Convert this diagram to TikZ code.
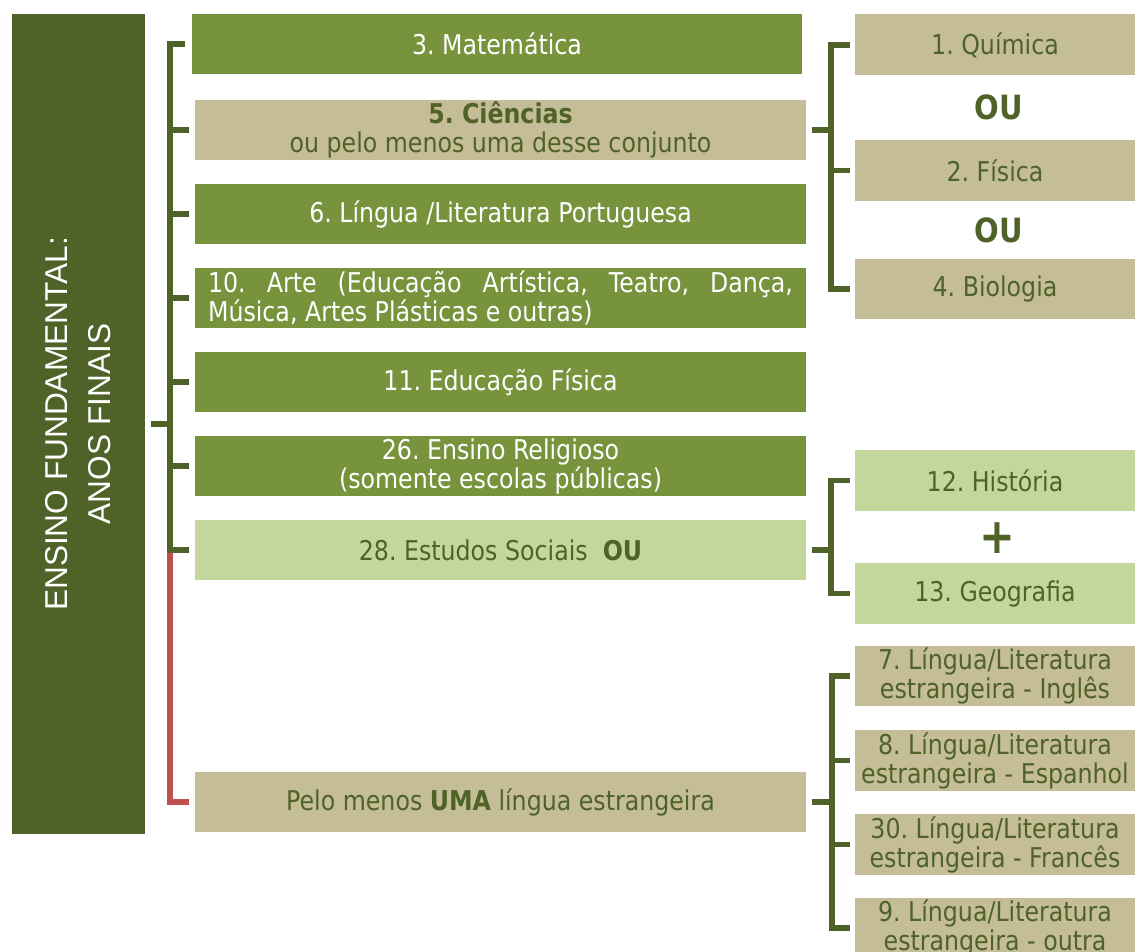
\documentclass[tikz,border=0pt]{standalone}
\usepackage{fontspec}
\setmainfont{DejaVu Sans}[FakeStretch=0.87]
\newfontfamily\titlefont{Liberation Sans}
\definecolor{darkolive}{HTML}{4F6228}
\definecolor{midolive}{HTML}{77933C}
\definecolor{sand}{HTML}{C4BD97}
\definecolor{paleolive}{HTML}{C3D69B}
\definecolor{redline}{HTML}{C0504D}
\frenchspacing
\tikzset{
  subj/.style={rectangle,inner sep=0pt,minimum width=12.22cm,minimum height=1.2cm,
    align=center,font=\fontsize{15.5}{16.5}\selectfont},
  opt/.style={rectangle,inner sep=0pt,minimum width=5.6cm,minimum height=1.22cm,
    align=center,font=\fontsize{15.5}{16.5}\selectfont},
  greenfill/.style={fill=midolive,text=white},
  sandfill/.style={fill=sand,text=darkolive},
  palefill/.style={fill=paleolive,text=darkolive},
  link/.style={draw=darkolive,line width=3.2pt},
  redlink/.style={draw=redline,line width=3.2pt}
}

\begin{document}
\begin{tikzpicture}[x=0.02cm,y=-0.02cm]
  \useasboundingbox (0,0) rectangle (1135,952);
  \clip (0,0) rectangle (1135,952);
  % left title block
  \node [rectangle,fill=darkolive,minimum width=2.66cm,minimum height=16.4cm,inner sep=0pt] (ensino) at (78.5,424) {};
  \node [rotate=90,text=white,align=center,font=\titlefont\fontsize{18}{24.5}\selectfont] (ensinotxt) at (ensino.center) {ENSINO FUNDAMENTAL:\\ANOS FINAIS};
  % middle column
  \node [subj,greenfill] (mat) at (497,44) {3. Matemática};
  \node [subj,sandfill] (cien) at (500.5,130) {\textbf{5. Ciências}\\ou pelo menos uma desse conjunto};
  \node [subj,greenfill] (port) at (500.5,214) {6. Língua /Literatura Portuguesa};
  \node [subj,greenfill,align=left] (arte) at (500.5,298) {\makebox[11.7cm][s]{10. Arte (Educação Artística, Teatro, Dança,}\\\makebox[11.7cm][l]{Música, Artes Plásticas e outras)}};
  \node [subj,greenfill] (edf) at (500.5,382) {11. Educação Física};
  \node [subj,greenfill] (rel) at (500.5,466) {26. Ensino Religioso\\(somente escolas públicas)};
  \node [subj,palefill] (soc) at (500.5,550) {28. Estudos Sociais\ \ \textbf{OU}};
  \node [subj,sandfill] (lingua) at (500.5,802) {Pelo menos \textbf{UMA} língua estrangeira};
  % right column
  \node [opt,sandfill] (quim) at (995,45) {1. Química};
  \node [text=darkolive,font=\bfseries\fontsize{19}{20}\selectfont] (ou1) at (999,107) {OU};
  \node [opt,sandfill] (fis) at (995,170.5) {2. Física};
  \node [text=darkolive,font=\bfseries\fontsize{19}{20}\selectfont] (ou2) at (999,230) {OU};
  \node [opt,sandfill] (bio) at (995,289) {4. Biologia};
  \node [opt,palefill] (hist) at (995,480.5) {12. História};
  \node [text=darkolive,font=\bfseries\fontsize{28}{28}\selectfont] (plus) at (997,538) {+};
  \node [opt,palefill] (geo) at (995,593.5) {13. Geografia};
  \node [opt,sandfill] (ing) at (995,676) {7. Língua/Literatura\\estrangeira - Inglês};
  \node [opt,sandfill] (esp) at (995,760.5) {8. Língua/Literatura\\estrangeira - Espanhol};
  \node [opt,sandfill] (fra) at (995,844.5) {30. Língua/Literatura\\estrangeira - Francês};
  \node [opt,sandfill] (out) at (995,928) {9. Língua/Literatura\\estrangeira - outra};
  % brackets
  \coordinate (lt) at (170,424);
  \coordinate (cj) at (831,130);
  \coordinate (sj) at (831,550);
  \coordinate (lj) at (832,802);
  \draw [redlink] (lt |- soc.west) |- ([xshift=-0.12cm]lingua.west);
  \draw [link] ([xshift=0.12cm]ensino.east) -- (lt);
  \draw [link] (lt) |- ([xshift=-0.12cm]mat.west);
  \foreach \n in {cien,port,arte,edf,rel,soc}
    \draw [link] (lt) |- ([xshift=-0.12cm]\n.west);
  \draw [link] ([xshift=0.12cm]cien.east) -- (cj);
  \foreach \n in {quim,fis,bio}
    \draw [link] (cj) |- ([xshift=-0.1cm]\n.west);
  \draw [link] ([xshift=0.12cm]soc.east) -- (sj);
  \foreach \n in {hist,geo}
    \draw [link] (sj) |- ([xshift=-0.1cm]\n.west);
  \draw [link] ([xshift=0.12cm]lingua.east) -- (lj);
  \foreach \n in {ing,esp,fra,out}
    \draw [link] (lj) |- ([xshift=-0.1cm]\n.west);
\end{tikzpicture}
\end{document}
